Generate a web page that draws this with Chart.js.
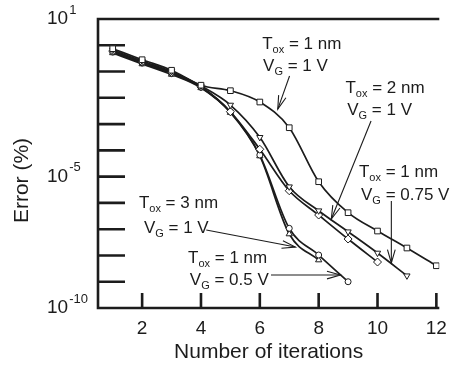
<!DOCTYPE html>
<html><head><meta charset="utf-8">
<script src="https://cdn.jsdelivr.net/npm/chart.js@4.4.1/dist/chart.umd.min.js"></script>
<style>html,body{margin:0;padding:0;background:#fff}canvas{display:block}</style>
</head><body>
<canvas id="c" width="456" height="370"></canvas>
<script>
// ---- data ----
const iterations = [1, 2, 3, 4, 5, 6, 7, 8, 9, 10, 11, 12];
const tox1_vg1    = [0.741, 0.282, 0.112, 0.0302, 1.87e-2, 6.92e-3, 7.28e-4, 6.41e-6, 4.24e-7, 8.51e-8, 1.92e-8, 4.06e-9];
const tox1_vg075  = [0.661, 0.251, 0.100, 0.0282, 5.32e-3, 3.14e-4, 4.13e-6, 5.05e-7, 8.0e-8, 1.24e-8, 1.69e-9];
const tox2_vg1    = [0.603, 0.229, 0.0912, 0.0263, 2.96e-3, 1.10e-4, 2.91e-6, 3.46e-7, 4.22e-8, 5.62e-9];
const tox1_vg05   = [0.550, 0.209, 0.0832, 0.0251, 2.88e-3, 6.65e-5, 1.08e-7, 1.04e-8, 1.0e-9];
const tox3_vg1    = [0.513, 0.195, 0.0776, 0.0240, 2.75e-3, 6.1e-5, 6.55e-8, 6.7e-9];
const xTickValues = [2, 4, 6, 8, 10, 12];
const yTickExponents = [-9, -8, -7, -6, -5, -4, -3, -2, -1, 0];
const yLabelExponents = [1, -5, -10];
const xTitle = 'Number of iterations';
const yTitle = 'Error (%)';

// annotations: [x, exponent] anchors in data space
const notes = [
  {l1: ['T', 'ox', ' = 1 nm'], l2: ['V', 'G', ' = 1 V'], p1: [6.08, 0.048], p2: [6.11, -0.789], from: [7.01, -1.17], to: [6.61, -2.43]},
  {l1: ['T', 'ox', ' = 2 nm'], l2: ['V', 'G', ' = 1 V'], p1: [8.91, -1.627], p2: [8.97, -2.464], from: [9.78, -2.883], to: [8.43, -6.613]},
  {l1: ['T', 'ox', ' = 1 nm'], l2: ['V', 'G', ' = 0.75 V'], p1: [9.37, -4.824], p2: [9.44, -5.70], from: [10.47, -5.928], to: [10.47, -8.288]},
  {l1: ['T', 'ox', ' = 3 nm'], l2: ['V', 'G', ' = 1 V'], p1: [1.89, -6.004], p2: [2.06, -6.956], from: [4.18, -7.032], to: [7.21, -7.679]},
  {l1: ['T', 'ox', ' = 1 nm'], l2: ['V', 'G', ' = 0.5 V'], p1: [3.56, -8.098], p2: [3.62, -8.935], from: [6.38, -8.745], to: [8.74, -8.745]}
];

const INK = '#1c1c1c';
const FONT = '"Liberation Sans", Arial, Helvetica, sans-serif';

function pts(arr) { return arr.map((v, i) => ({x: iterations[i], y: v})); }
function ds(arr, style, rot, r) {
  return {
    data: pts(arr), borderColor: INK, borderWidth: 1.7, backgroundColor: '#fff',
    pointStyle: style, rotation: rot || 0, pointRadius: r, pointBorderWidth: 1,
    pointBorderColor: INK, pointBackgroundColor: '#fff',
    cubicInterpolationMode: 'monotone', fill: false
  };
}

const framePlugin = {
  id: 'frame',
  beforeDatasetsDraw(chart) {
    const {ctx, chartArea: a, scales: {x, y}} = chart;
    ctx.save();
    ctx.strokeStyle = INK; ctx.lineWidth = 2.6; ctx.lineCap = 'butt';
    ctx.beginPath();
    ctx.moveTo(a.right, a.top); ctx.lineTo(a.left, a.top);
    ctx.lineTo(a.left, a.bottom); ctx.lineTo(a.right, a.bottom);
    ctx.stroke();
    ctx.beginPath();
    for (const e of yTickExponents) {
      const py = y.getPixelForValue(Math.pow(10, e));
      ctx.moveTo(a.left, py); ctx.lineTo(a.left + 27, py);
    }
    for (const v of xTickValues) {
      const px = x.getPixelForValue(v);
      ctx.moveTo(px, a.bottom); ctx.lineTo(px, a.bottom - 15);
    }
    ctx.stroke();
    // y labels with superscripts
    ctx.fillStyle = INK;
    ctx.textBaseline = 'middle'; ctx.textAlign = 'left';
    for (const e of yLabelExponents) {
      const py = y.getPixelForValue(Math.pow(10, e));
      ctx.font = '19px ' + FONT;
      ctx.fillText('10', 47, py);
      const w = ctx.measureText('10').width;
      ctx.font = '13px ' + FONT;
      ctx.fillText(String(e), 47 + w + 1, py - 9);
    }
    // y title
    ctx.save();
    ctx.translate(22, (a.top + a.bottom) / 2 + 17);
    ctx.rotate(-Math.PI / 2);
    ctx.textAlign = 'center';
    ctx.font = '21px ' + FONT;
    ctx.fillText(yTitle, 0, 0);
    ctx.restore();
    ctx.restore();
  },
  afterDatasetsDraw(chart) {
    const {ctx, scales: {x, y}} = chart;
    const P = (p) => [x.getPixelForValue(p[0]), y.getPixelForValue(Math.pow(10, p[1]))];
    ctx.save();
    ctx.fillStyle = INK; ctx.strokeStyle = INK;
    ctx.textBaseline = 'middle'; ctx.textAlign = 'left';
    const line = (parts, p) => {
      let [px, py] = P(p);
      ctx.font = '17px ' + FONT; ctx.fillText(parts[0], px, py);
      px += ctx.measureText(parts[0]).width;
      ctx.font = '11px ' + FONT; ctx.fillText(parts[1], px, py + 6);
      px += ctx.measureText(parts[1]).width;
      ctx.font = '17px ' + FONT; ctx.fillText(parts[2], px, py);
    };
    for (const n of notes) {
      line(n.l1, n.p1); line(n.l2, n.p2);
      const [x0, y0] = P(n.from), [x1, y1] = P(n.to);
      ctx.lineWidth = 1.1;
      ctx.beginPath(); ctx.moveTo(x0, y0); ctx.lineTo(x1, y1); ctx.stroke();
      const ang = Math.atan2(y1 - y0, x1 - x0), L = 14, sp = 0.28;
      ctx.beginPath();
      ctx.moveTo(x1 - L * Math.cos(ang - sp), y1 - L * Math.sin(ang - sp));
      ctx.lineTo(x1, y1);
      ctx.lineTo(x1 - L * Math.cos(ang + sp), y1 - L * Math.sin(ang + sp));
      ctx.stroke();
    }
    ctx.restore();
  }
};

new Chart(document.getElementById('c'), {
  type: 'line',
  data: {
    datasets: [
      ds(tox1_vg1, 'rect', 0, 4),
      ds(tox1_vg075, 'triangle', 180, 3.6),
      ds(tox2_vg1, 'rectRot', 0, 4),
      ds(tox1_vg05, 'circle', 0, 3),
      ds(tox3_vg1, 'triangle', 0, 3.6)
    ]
  },
  options: {
    responsive: false, animation: false, devicePixelRatio: 1,
    layout: {padding: {left: 98, top: 19, right: 9, bottom: 0}},
    plugins: {legend: {display: false}, tooltip: {enabled: false}},
    scales: {
      x: {
        type: 'linear', min: 0.5, max: 12.1,
        afterBuildTicks: (s) => { s.ticks = xTickValues.map(v => ({value: v})); },
        afterFit: (s) => { s.height = 62; },
        grid: {display: false, drawTicks: false},
        border: {display: false},
        ticks: {color: INK, font: {family: FONT, size: 19}, padding: 9, maxRotation: 0, autoSkip: false},
        title: {display: true, text: xTitle, color: INK, font: {family: FONT, size: 21}, padding: {top: 0, bottom: 5}}
      },
      y: {
        type: 'logarithmic', min: 1e-10, max: 10, display: false
      }
    }
  },
  plugins: [framePlugin]
});
</script>
</body></html>
